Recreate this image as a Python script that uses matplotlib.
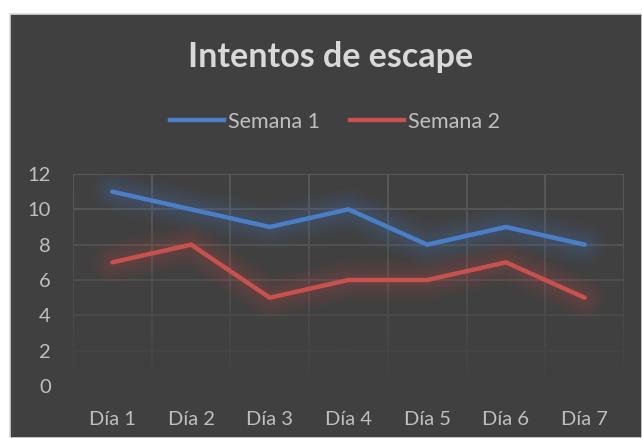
import numpy as np
import matplotlib
matplotlib.use('Agg')
import matplotlib.pyplot as plt
from matplotlib.patches import Rectangle
from matplotlib.lines import Line2D

dias = ['Día 1', 'Día 2', 'Día 3', 'Día 4', 'Día 5', 'Día 6', 'Día 7']
semana1 = [11, 10, 9, 10, 8, 9, 8]
semana2 = [7, 8, 5, 6, 6, 7, 5]
y_ticks = [0, 2, 4, 6, 8, 10, 12]

plt.rcParams['font.family'] = ['Lato', 'DejaVu Sans']
bg = '#404040'
txt = '#bfbfbf'
blue = '#4a7fc8'
red = '#c8504d'

W, H = 642, 438
fig = plt.figure(figsize=(W / 100, H / 100), dpi=100, facecolor='white')
fig.patches.append(Rectangle((10 / W, 0), 1 - 10 / W, 424 / H, transform=fig.transFigure,
                             facecolor=bg, edgecolor='#d9d9d9', linewidth=1.2, zorder=-5))

ax = fig.add_axes([73 / W, (H - 386) / H, 551 / W, 212 / H])
ax.set_facecolor(bg)
x = np.arange(len(dias))
ax.set_yticks(y_ticks)
ax.set_xticks(x)
ax.set_xticklabels(dias)
ax.tick_params(colors=txt, labelsize=14.5, length=0, pad=18)
ax.tick_params(axis='y', pad=16)
for s in ax.spines.values():
    s.set_visible(False)

# grid lines (horizontal and vertical at category borders)
for yv in y_ticks:
    ax.axhline(yv, color='#5a5a5a', lw=1.3, zorder=1)
for xv in np.arange(-0.5, len(dias), 1):
    ax.axvline(xv, color='#5a5a5a', lw=1.3, zorder=1)

# fade grid towards the bottom
grad = np.zeros((100, 2, 4))
grad[..., :3] = np.array([0x40, 0x40, 0x40]) / 255
grad[..., 3] = np.linspace(0, 1, 100)[:, None] ** 1.3
ax.imshow(grad, extent=[0, 1, 0, 1], transform=ax.transAxes, aspect='auto',
          origin='upper', zorder=2)

# glow + lines
for data, c in [(semana1, blue), (semana2, red)]:
    for lw in [30, 25, 20, 16, 12, 8]:
        ax.plot(x, data, color=c, lw=lw, alpha=0.045, solid_capstyle='round',
                solid_joinstyle='round', zorder=3)
    ax.plot(x, data, color=c, lw=3.2, solid_capstyle='round',
            solid_joinstyle='miter', zorder=4)

ax.set_xlim(-0.5, len(dias) - 0.5)
ax.set_ylim(0, 12)

fig.text(331 / W, 1 - 57 / H, 'Intentos de escape', ha='center', va='center',
         fontsize=24.5, fontweight='bold', color='#d9d9d9')

handles = [Line2D([], [], color=blue, lw=3.2), Line2D([], [], color=red, lw=3.2)]
fig.legend(handles, ['Semana 1', 'Semana 2'], loc='center', bbox_to_anchor=(335 / W, 1 - 122 / H),
           ncol=2, frameon=False, fontsize=15.5, labelcolor=txt, handlelength=2.5,
           handletextpad=0.2, columnspacing=1.4)

fig.savefig('out.png', dpi=100, facecolor='white')
